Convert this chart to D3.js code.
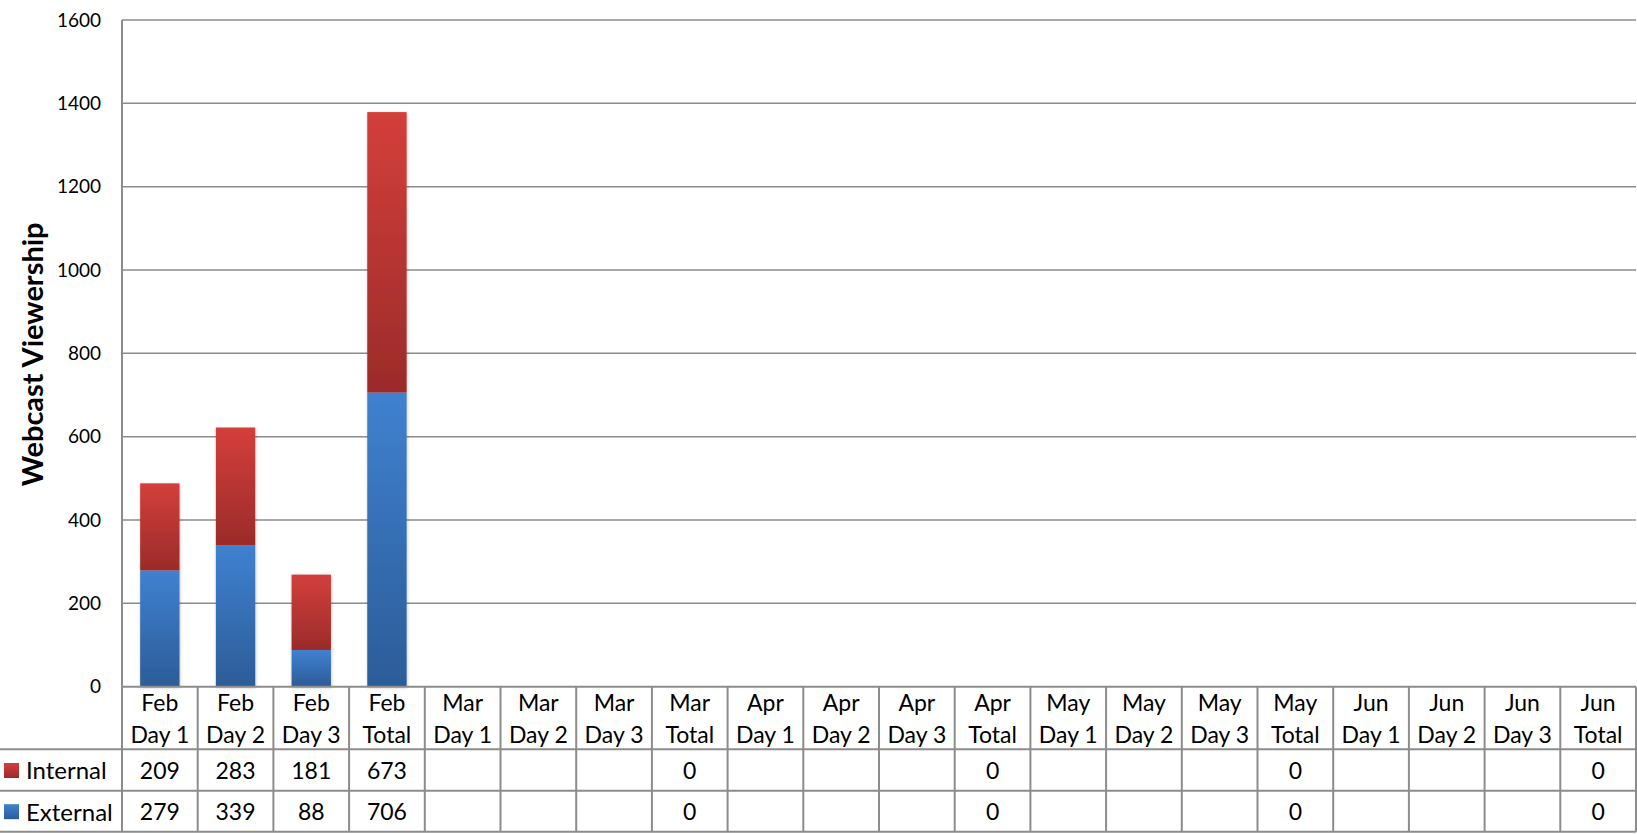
<!DOCTYPE html>
<html><head><meta charset="utf-8">
<script src="https://cdn.jsdelivr.net/npm/d3@7"></script>
<style>
html,body{margin:0;padding:0;background:#fff;}
svg{display:block;font-family:Lato, "Open Sans", sans-serif;}
</style></head>
<body>
<svg id="chart" width="1637" height="834"></svg>
<script>
const months = ["Feb","Mar","Apr","May","Jun"];
const dayLabels = ["Day 1","Day 2","Day 3","Total"];
const categories = months.flatMap(m => dayLabels.map(d => m + "\n" + d));
const internalValues = [209,283,181,673, null,null,null,0, null,null,null,0, null,null,null,0, null,null,null,0];
const externalValues = [279,339,88,706, null,null,null,0, null,null,null,0, null,null,null,0, null,null,null,0];
const yTicks = [0,200,400,600,800,1000,1200,1400,1600];
const seriesNames = ["Internal","External"];

(function(){
const svg = d3.select("#chart");
const pL = 122, pR = 1636, pT = 20, pB = 686.7;
const rowH = [62.6, 41.4, 42];
const gridColor = "#8c8c8c";

const x = d3.scaleBand().domain(d3.range(categories.length)).range([pL, pR]).paddingInner(0.48).paddingOuter(0.24);
const xCol = d3.scaleBand().domain(d3.range(categories.length)).range([pL, pR]);
const y = d3.scaleLinear().domain([0,1600]).range([pB, pT]);

const defs = svg.append("defs");
function grad(id, c1, c2){
  const g = defs.append("linearGradient").attr("id", id).attr("x1",0).attr("y1",0).attr("x2",0).attr("y2",1);
  g.append("stop").attr("offset","0%").attr("stop-color",c1);
  g.append("stop").attr("offset","100%").attr("stop-color",c2);
}
grad("gRed", "#d33f3b", "#9b2b2a");
grad("gBlue", "#3f81d0", "#2c5c98");
const f = defs.append("filter").attr("id","shadow").attr("x","-5%").attr("y","-5%").attr("width","110%").attr("height","110%");
f.append("feDropShadow").attr("dx",0.5).attr("dy",1).attr("stdDeviation",1.8).attr("flood-color","#000").attr("flood-opacity",0.25);

// gridlines
svg.append("g").selectAll("line").data(yTicks.filter(t=>t>0)).join("line")
  .attr("x1", pL).attr("x2", pR).attr("y1", d=>y(d)).attr("y2", d=>y(d))
  .attr("stroke", gridColor).attr("stroke-width", 1.5);

// y axis labels
const yAxis = d3.axisLeft(y).tickValues(yTicks).tickFormat(d3.format("d")).tickSize(0).tickPadding(21);
const ga = svg.append("g").attr("transform", `translate(${pL},0)`).call(yAxis);
ga.select(".domain").remove();
ga.selectAll("text").attr("font-size", 19).attr("fill", "#000").attr("font-family","Lato, sans-serif");

// axis title
svg.append("text").attr("transform", `translate(43,${(pT+pB)/2 + 1}) rotate(-90)`)
  .attr("text-anchor","middle").attr("font-size", 29).attr("font-weight","bold").text("Webcast Viewership");

// stacked bars
const data = categories.map((c,i)=>({i, Internal: internalValues[i]||0, External: externalValues[i]||0}));
const stack = d3.stack().keys(["External","Internal"])(data);
const fills = {External:"url(#gBlue)", Internal:"url(#gRed)"};
svg.append("g").attr("filter","url(#shadow)").selectAll("g").data(stack).join("g").attr("fill", d=>fills[d.key])
  .selectAll("rect").data(d=>d.filter(p=>p[1]-p[0]>0)).join("rect")
  .attr("x", d=>x(d.data.i)).attr("width", x.bandwidth())
  .attr("y", d=>y(d[1])).attr("height", d=>y(d[0])-y(d[1]));

// left axis line
svg.append("line").attr("x1",pL).attr("x2",pL).attr("y1",pT).attr("y2",pB)
  .attr("stroke",gridColor).attr("stroke-width",2);

// data table
const t = svg.append("g").attr("stroke", gridColor).attr("stroke-width", 2);
const y0 = pB, y1 = y0 + rowH[0], y2 = y1 + rowH[1], y3 = y2 + rowH[2] - 1;
t.append("line").attr("x1",pL).attr("x2",pR).attr("y1",y0).attr("y2",y0);
[y1,y2,y3].forEach(yy => t.append("line").attr("x1",0).attr("x2",pR).attr("y1",yy).attr("y2",yy));
d3.range(categories.length+1).forEach(i=>{
  const xx = i < categories.length ? xCol(i) : pR;
  t.append("line").attr("x1",xx).attr("x2",xx).attr("y1",y0).attr("y2",y3);
});

const txt = svg.append("g").attr("font-size", 23).attr("fill","#000").attr("text-anchor","middle");
categories.forEach((c,i)=>{
  const cx = xCol(i) + xCol.bandwidth()/2;
  const parts = c.split("\n");
  txt.append("text").attr("x",cx).attr("y",y0+16).attr("dy","0.35em").text(parts[0]);
  txt.append("text").attr("x",cx).attr("y",y0+48).attr("dy","0.35em").text(parts[1]);
  if (internalValues[i] !== null) txt.append("text").attr("x",cx).attr("y",(y1+y2)/2+1).attr("dy","0.35em").text(internalValues[i]);
  if (externalValues[i] !== null) txt.append("text").attr("x",cx).attr("y",(y2+y3)/2+1).attr("dy","0.35em").text(externalValues[i]);
});

// legend keys in table
const rows = [["Internal","url(#gRed)",(y1+y2)/2],["External","url(#gBlue)",(y2+y3)/2]];
rows.forEach(([name, fill, cy])=>{
  svg.append("rect").attr("x",4).attr("y",cy-7).attr("width",15).attr("height",15).attr("fill",fill);
  svg.append("text").attr("x",26).attr("y",cy+1).attr("dy","0.35em").attr("font-size",24).attr("fill","#000").text(name);
});
})();
</script>
</body></html>
